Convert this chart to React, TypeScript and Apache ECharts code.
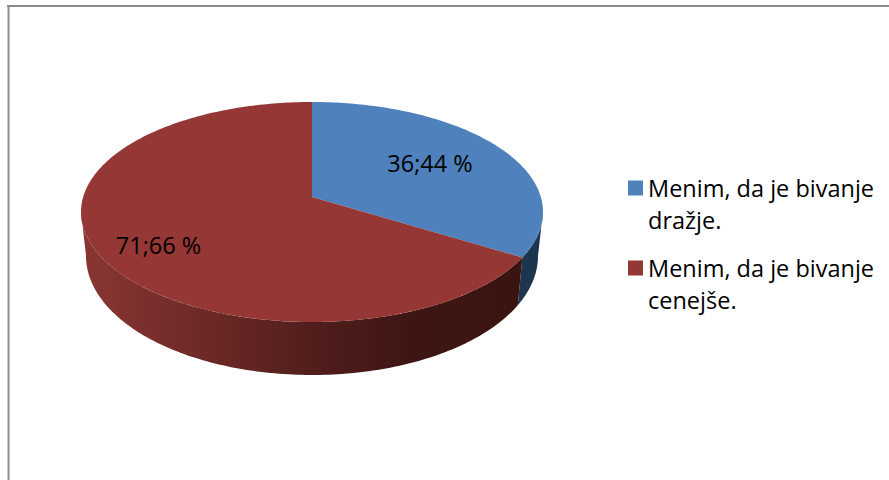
import React, { useEffect, useRef } from "react";
import * as echarts from "echarts";

const categories = ["Menim, da je bivanje\ndražje.", "Menim, da je bivanje\ncenejše."];
const values = [36.44, 71.66];
const sliceLabels = ["36;44 %", "71;66 %"];
const topColors = ["#4f81bd", "#953735"];
const labelCentres: [number, number][] = [[430, 163], [158.5, 245]];

const CX = 312, CY = 212, RX = 231, RY = 110;
const BOTTOM_CY = 256, BOTTOM_RX = 226, BOTTOM_RY = 119;
const APEX = -15; // apex offset of the perspective
const C = APEX / RY; // perspective factor
const K = RX * Math.sqrt(1 - C * C);
const A = RY;

// unit circle -> screen, with perspective
function proj(angleDeg: number): [number, number] {
  const t = (angleDeg * Math.PI) / 180;
  const x = Math.sin(t), y = -Math.cos(t);
  const d = 1 + C * y;
  return [CX + (K * x) / d, CY + (A * y + APEX) / d];
}

// the lower rim of the pie: same angles, its own ellipse
function projBottom(angleDeg: number): [number, number] {
  const [x, y] = proj(angleDeg);
  return [CX + ((x - CX) * BOTTOM_RX) / RX, BOTTOM_CY + ((y - CY) * BOTTOM_RY) / RY];
}

function arcPts(a0: number, a1: number, f = proj) {
  const pts: [number, number][] = [];
  const n = Math.max(2, Math.ceil(Math.abs(a1 - a0)));
  for (let i = 0; i <= n; i++) pts.push(f(a0 + ((a1 - a0) * i) / n));
  return pts;
}

// angle at which the rim reaches its rightmost / leftmost screen x
function extremeAngle(side: 1 | -1) {
  let best = 0, bestX = -Infinity;
  for (let a = 0; a < 360; a += 0.25) {
    const x = side * proj(a)[0];
    if (x > bestX) { bestX = x; best = a; }
  }
  return best;
}

const total = values.reduce((s, v) => s + v, 0);
const RIGHT = extremeAngle(1), LEFT = extremeAngle(-1);

function wall(a0: number, a1: number, fill: any) {
  if (a1 <= a0) return null;
  const top = arcPts(a0, a1);
  const bot = arcPts(a1, a0, projBottom);
  return { type: "polygon", shape: { points: [...top, ...bot] }, style: { fill }, silent: true };
}

const redWall = new echarts.graphic.LinearGradient(81, 0, 543, 0, [
  { offset: 0, color: "#8a3633" },
  { offset: 0.25, color: "#6f2a28" },
  { offset: 0.5, color: "#511e1c" },
  { offset: 0.72, color: "#3e1513" },
  { offset: 1, color: "#3a1412" },
], true as any);
const blueWall = "#1e3550";
const wallFills = [blueWall, redWall];

function renderSlice(index: number) {
  let start = 0;
  for (let i = 0; i < index; i++) start += (values[i] / total) * 360;
  const end = start + (values[index] / total) * 360;
  const children: any[] = [];
  // front-facing wall: from RIGHT through 180 to LEFT
  const w = wall(Math.max(start, RIGHT), Math.min(end, LEFT), wallFills[index]);
  if (w) children.push(w);
  const apex = [CX, CY + APEX];
  children.push({
    type: "polygon",
    shape: { points: [apex, ...arcPts(start, end)] },
    style: { fill: topColors[index] },
    silent: true,
  });
  children.push({
    type: "text",
    x: labelCentres[index][0],
    y: labelCentres[index][1],
    style: {
      text: sliceLabels[index],
      fill: "#000",
      font: "23.5px 'Open Sans'",
      align: "center",
      verticalAlign: "middle",
    },
    z2: 5,
  });
  return { type: "group", children };
}

export default function App() {
  const ref = useRef<HTMLDivElement>(null);
  useEffect(() => {
    document.body.style.margin = "0";
    const chart = echarts.init(ref.current!, null, { renderer: "svg" });
    chart.setOption({
      animation: false,
      backgroundColor: "#fff",
      color: topColors,
      legend: {
        orient: "vertical",
        left: 628,
        top: 140,
        padding: 0,
        itemWidth: 15,
        itemHeight: 15,
        itemGap: -16,
        icon: "rect",
        data: categories,
        selectedMode: false,
        formatter: (name: string) => "\n" + name,
        textStyle: {
          fontFamily: "Open Sans",
          fontSize: 23.5,
          lineHeight: 32,
          color: "#000",
        },
      },
      graphic: [
        { type: "line", shape: { x1: 7, y1: 6, x2: 889, y2: 6 }, style: { stroke: "#8c8c8c", lineWidth: 2 } },
        { type: "line", shape: { x1: 8.5, y1: 6, x2: 8.5, y2: 480 }, style: { stroke: "#8c8c8c", lineWidth: 2 } },
      ],
      series: categories.map((name, i) => ({
        type: "custom",
        name,
        coordinateSystem: "none",
        data: [values[i]],
        itemStyle: { color: topColors[i] },
        renderItem: () => renderSlice(i),
        silent: true,
      })),
    });
    return () => chart.dispose();
  }, []);
  return <div ref={ref} style={{ width: 889, height: 480 }} />;
}
